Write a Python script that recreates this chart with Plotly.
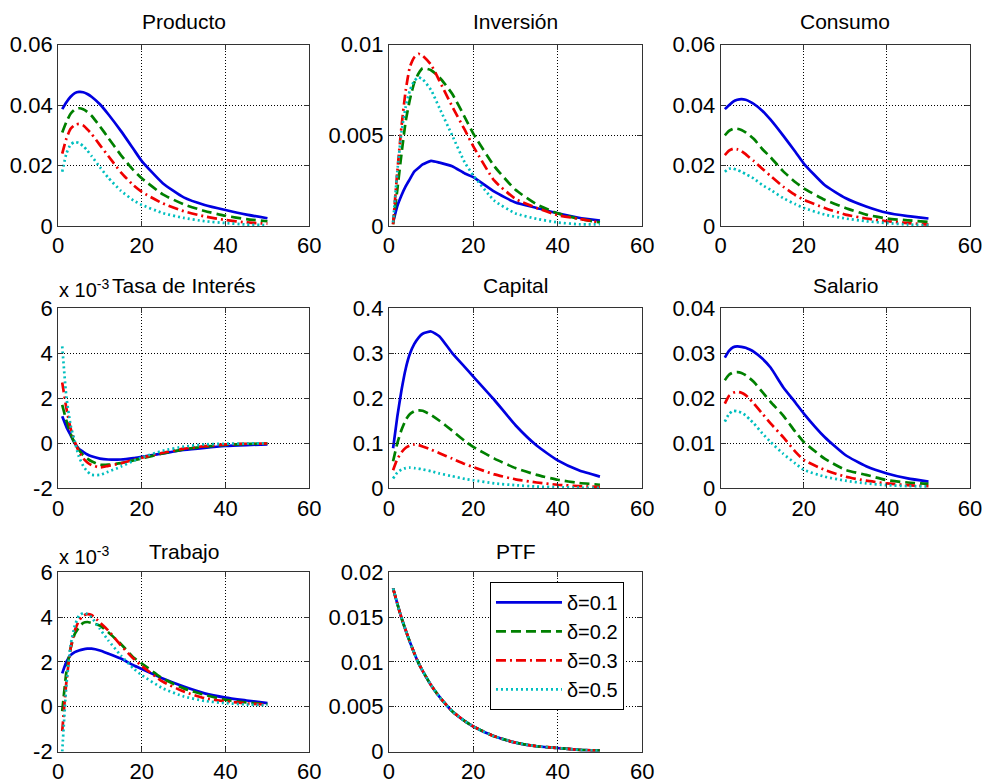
import plotly.graph_objects as go

# periods
periods = [1, 2, 3, 4, 5, 6, 7, 8, 10, 12, 15, 18, 20, 25, 30, 35, 40, 45, 50]

series_names = ["δ=0.1", "δ=0.2", "δ=0.3", "δ=0.5"]
titles = ["Producto", "Inversión", "Consumo", "Tasa de Interés", "Capital", "Salario", "Trabajo", "PTF"]

producto_01 = [0.0387, 0.0410, 0.0428, 0.0440, 0.0444, 0.0443, 0.0437, 0.0428, 0.0403, 0.0370, 0.0315, 0.0255, 0.0215, 0.0142, 0.0095, 0.0070, 0.0053, 0.0038, 0.0026]
producto_02 = [0.0310, 0.0345, 0.0372, 0.0386, 0.0390, 0.0387, 0.0378, 0.0365, 0.0330, 0.0292, 0.0235, 0.0185, 0.0158, 0.0105, 0.0072, 0.0050, 0.0034, 0.0023, 0.0016]
producto_03 = [0.0240, 0.0290, 0.0322, 0.0335, 0.0338, 0.0333, 0.0320, 0.0305, 0.0268, 0.0232, 0.0178, 0.0135, 0.0113, 0.0075, 0.0049, 0.0032, 0.0020, 0.0012, 0.0008]
producto_05 = [0.0180, 0.0240, 0.0270, 0.0278, 0.0275, 0.0265, 0.0250, 0.0232, 0.0195, 0.0160, 0.0117, 0.0085, 0.0070, 0.0043, 0.0027, 0.0016, 0.0010, 0.0005, 0.0003]

inversion_01 = [0.0002, 0.0011, 0.0017, 0.0022, 0.0026, 0.0030, 0.0032, 0.0034, 0.0036, 0.0035, 0.0033, 0.0029, 0.0027, 0.0019, 0.0013, 0.0010, 0.0007, 0.00046, 0.0003]
inversion_02 = [0.0001, 0.0020, 0.0040, 0.0058, 0.0070, 0.0079, 0.0084, 0.0087, 0.0086, 0.0082, 0.0073, 0.0060, 0.0051, 0.0033, 0.0020, 0.0012, 0.0007, 0.0004, 0.0002]
inversion_03 = [0.0001, 0.0030, 0.0055, 0.0075, 0.0088, 0.0093, 0.0095, 0.0094, 0.0089, 0.0080, 0.0066, 0.0053, 0.0044, 0.0025, 0.0015, 0.0010, 0.0006, 0.0004, 0.0002]
inversion_05 = [0.0002, 0.0030, 0.0052, 0.0066, 0.0075, 0.0080, 0.0082, 0.0081, 0.0075, 0.0065, 0.0050, 0.0035, 0.0028, 0.0014, 0.0007, 0.0004, 0.0002, 0.0001, 0.0001]

consumo_01 = [0.0387, 0.0400, 0.0412, 0.0418, 0.0420, 0.0418, 0.0412, 0.0404, 0.0382, 0.0352, 0.0300, 0.0245, 0.0207, 0.0136, 0.0093, 0.0065, 0.0044, 0.0033, 0.0025]
consumo_02 = [0.0300, 0.0315, 0.0322, 0.0322, 0.0318, 0.0310, 0.0300, 0.0288, 0.0255, 0.0228, 0.0182, 0.0145, 0.0125, 0.0087, 0.0060, 0.0038, 0.0025, 0.0019, 0.0014]
consumo_03 = [0.0235, 0.0250, 0.0256, 0.0254, 0.0248, 0.0238, 0.0226, 0.0215, 0.0190, 0.0166, 0.0131, 0.0102, 0.0087, 0.0060, 0.0038, 0.0025, 0.0016, 0.0010, 0.0005]
consumo_05 = [0.0180, 0.0190, 0.0190, 0.0185, 0.0180, 0.0172, 0.0165, 0.0157, 0.0136, 0.0120, 0.0093, 0.0072, 0.0060, 0.0038, 0.0025, 0.0016, 0.0010, 0.0005, 0.0003]

# Tasa de Interés and Trabajo in units of 1e-3
tasa_01 = [1.20, 0.73, 0.36, 0.00, -0.25, -0.38, -0.50, -0.58, -0.68, -0.72, -0.72, -0.66, -0.60, -0.45, -0.30, -0.20, -0.12, -0.08, -0.05]
tasa_02 = [1.70, 1.00, 0.43, 0.00, -0.30, -0.53, -0.68, -0.80, -0.95, -0.95, -0.88, -0.76, -0.67, -0.45, -0.27, -0.15, -0.07, -0.03, -0.01]
tasa_03 = [2.70, 1.55, 0.66, 0.07, -0.38, -0.67, -0.85, -0.97, -1.07, -1.00, -0.89, -0.74, -0.64, -0.42, -0.24, -0.13, -0.05, -0.02, -0.01]
tasa_05 = [4.30, 2.05, 0.80, 0.07, -0.60, -1.00, -1.25, -1.40, -1.40, -1.26, -1.04, -0.78, -0.63, -0.33, -0.15, -0.05, -0.02, -0.01, 0.00]

capital_01 = [0.089, 0.159, 0.218, 0.266, 0.299, 0.320, 0.334, 0.343, 0.348, 0.337, 0.300, 0.269, 0.248, 0.196, 0.140, 0.095, 0.062, 0.040, 0.026]
capital_02 = [0.060, 0.100, 0.130, 0.152, 0.165, 0.171, 0.173, 0.172, 0.163, 0.150, 0.128, 0.105, 0.092, 0.066, 0.045, 0.030, 0.019, 0.012, 0.008]
capital_03 = [0.040, 0.065, 0.080, 0.090, 0.095, 0.097, 0.096, 0.093, 0.086, 0.078, 0.066, 0.054, 0.047, 0.031, 0.020, 0.013, 0.008, 0.005, 0.003]
capital_05 = [0.022, 0.035, 0.042, 0.045, 0.046, 0.045, 0.044, 0.042, 0.038, 0.033, 0.027, 0.021, 0.018, 0.011, 0.007, 0.004, 0.0025, 0.0015, 0.001]

salario_01 = [0.0290, 0.0305, 0.0313, 0.0315, 0.0314, 0.0312, 0.0308, 0.0303, 0.0288, 0.0268, 0.0225, 0.0190, 0.0166, 0.0114, 0.0074, 0.0049, 0.0033, 0.0022, 0.0015]
salario_02 = [0.0240, 0.0252, 0.0257, 0.0258, 0.0256, 0.0251, 0.0244, 0.0236, 0.0214, 0.0192, 0.0162, 0.0125, 0.0103, 0.0066, 0.0041, 0.0030, 0.0018, 0.0013, 0.0010]
salario_03 = [0.0188, 0.0205, 0.0212, 0.0214, 0.0212, 0.0207, 0.0198, 0.0188, 0.0166, 0.0144, 0.0114, 0.0081, 0.0063, 0.0041, 0.0026, 0.0017, 0.0011, 0.0007, 0.0005]
salario_05 = [0.0148, 0.0165, 0.0172, 0.0171, 0.0168, 0.0162, 0.0153, 0.0144, 0.0122, 0.0103, 0.0077, 0.0055, 0.0041, 0.0026, 0.0017, 0.0011, 0.0007, 0.0005, 0.0004]

trabajo_01 = [1.49, 2.00, 2.30, 2.44, 2.51, 2.56, 2.59, 2.59, 2.51, 2.37, 2.15, 1.85, 1.68, 1.26, 0.90, 0.60, 0.41, 0.28, 0.16]
trabajo_02 = [-0.20, 1.56, 2.60, 3.25, 3.54, 3.74, 3.78, 3.74, 3.62, 3.32, 2.80, 2.20, 1.93, 1.26, 0.82, 0.53, 0.31, 0.19, 0.12]
trabajo_03 = [-1.09, 1.12, 2.60, 3.40, 3.84, 4.06, 4.13, 4.09, 3.76, 3.40, 2.74, 2.15, 1.82, 1.12, 0.68, 0.38, 0.24, 0.15, 0.09]
trabajo_05 = [-2.00, 0.97, 2.74, 3.62, 4.06, 4.18, 4.13, 3.99, 3.47, 2.96, 2.29, 1.71, 1.41, 0.82, 0.46, 0.26, 0.16, 0.10, 0.07]

ptf_01 = [0.0182, 0.0165, 0.0149, 0.0135, 0.0122, 0.0110, 0.0099, 0.0090, 0.0074, 0.0061, 0.0045, 0.0034, 0.0028, 0.0017, 0.0010, 0.0006, 0.0004, 0.0002, 0.0001]
ptf_02 = ptf_01
ptf_03 = ptf_01
ptf_05 = ptf_01

x_ticks = [0, 20, 40, 60]
y_ticks = [
    ([0, 0.02, 0.04, 0.06], ["0", "0.02", "0.04", "0.06"]),
    ([0, 0.005, 0.01], ["0", "0.005", "0.01"]),
    ([0, 0.02, 0.04, 0.06], ["0", "0.02", "0.04", "0.06"]),
    ([-2, 0, 2, 4, 6], ["-2", "0", "2", "4", "6"]),
    ([0, 0.1, 0.2, 0.3, 0.4], ["0", "0.1", "0.2", "0.3", "0.4"]),
    ([0, 0.01, 0.02, 0.03, 0.04], ["0", "0.01", "0.02", "0.03", "0.04"]),
    ([-2, 0, 2, 4, 6], ["-2", "0", "2", "4", "6"]),
    ([0, 0.005, 0.01, 0.015, 0.02], ["0", "0.005", "0.01", "0.015", "0.02"]),
]

panels = [
    [producto_01, producto_02, producto_03, producto_05],
    [inversion_01, inversion_02, inversion_03, inversion_05],
    [consumo_01, consumo_02, consumo_03, consumo_05],
    [tasa_01, tasa_02, tasa_03, tasa_05],
    [capital_01, capital_02, capital_03, capital_05],
    [salario_01, salario_02, salario_03, salario_05],
    [trabajo_01, trabajo_02, trabajo_03, trabajo_05],
    [ptf_01, ptf_02, ptf_03, ptf_05],
]

W, H = 984, 784
col_px = [(53, 309), (390, 648), (728, 982)]
row_px = [(34, 222), (307, 494), (581, 767)]
title_y = [10, 284, 559]
exp_y = [287, 564]

colors = ["#0000E0", "#008000", "#F00000", "#00BFBF"]
dashes = ["solid", "10px,5px", "10px,4px,2px,4px", "2px,3px"]

font = "Liberation Sans, Arial, sans-serif"
fig = go.Figure()
annotations = []
layout = dict(
    width=W, height=H, margin=dict(l=0, r=0, t=0, b=0),
    paper_bgcolor="white", plot_bgcolor="white",
    font=dict(family=font, size=22, color="black"),
    showlegend=True,
    legend=dict(x=493 / W, y=1 - 591 / H, xanchor="left", yanchor="top",
                bgcolor="white", bordercolor="black", borderwidth=1,
                font=dict(family=font, size=20, color="black"),
                tracegroupgap=0, itemwidth=66),
)

for i, series in enumerate(panels):
    r, c = divmod(i, 3)
    idx = "" if i == 0 else str(i + 1)
    x0, x1 = col_px[c]
    y0, y1 = row_px[r]
    tv, tt = y_ticks[i]
    axcommon = dict(showline=True, linecolor="#333333", linewidth=1, mirror="ticks",
                    ticks="inside", ticklen=5, tickcolor="#333333",
                    showgrid=True, gridcolor="black", gridwidth=1, griddash="1px,2px",
                    zeroline=False, tickfont=dict(family=font, size=22, color="black"))
    layout["xaxis" + idx] = dict(domain=[x0 / W, x1 / W], range=[0, 60],
                                 tickvals=x_ticks, ticktext=[str(t) for t in x_ticks],
                                 anchor="y" + idx, **axcommon)
    layout["yaxis" + idx] = dict(domain=[1 - y1 / H, 1 - y0 / H], range=[tv[0], tv[-1]],
                                 tickvals=tv, ticktext=tt, anchor="x" + idx, **axcommon)
    for k, ys in enumerate(series):
        fig.add_trace(go.Scatter(
            x=periods, y=ys, mode="lines", name=series_names[k],
            line=dict(color=colors[k], width=2.7, dash=dashes[k], shape="spline", smoothing=0.5),
            xaxis="x" + idx, yaxis="y" + idx,
            showlegend=(i == 7), hoverinfo="skip"))
    annotations.append(dict(text=titles[i], x=(x0 + x1) / 2 / W, y=1 - title_y[r] / H,
                            xref="paper", yref="paper", xanchor="center", yanchor="middle",
                            showarrow=False, font=dict(family=font, size=21, color="black")))
    if i in (3, 6):
        annotations.append(dict(text="x 10<sup>-3</sup>", x=52 / W, y=1 - exp_y[0 if i == 3 else 1] / H,
                                xref="paper", yref="paper", xanchor="left", yanchor="middle",
                                showarrow=False, font=dict(family=font, size=20, color="black")))

layout["annotations"] = annotations
fig.update_layout(**layout)
fig.write_html("out.html", config={"displayModeBar": False},
               post_script="document.body.style.margin='0';document.body.style.overflow='hidden';")
